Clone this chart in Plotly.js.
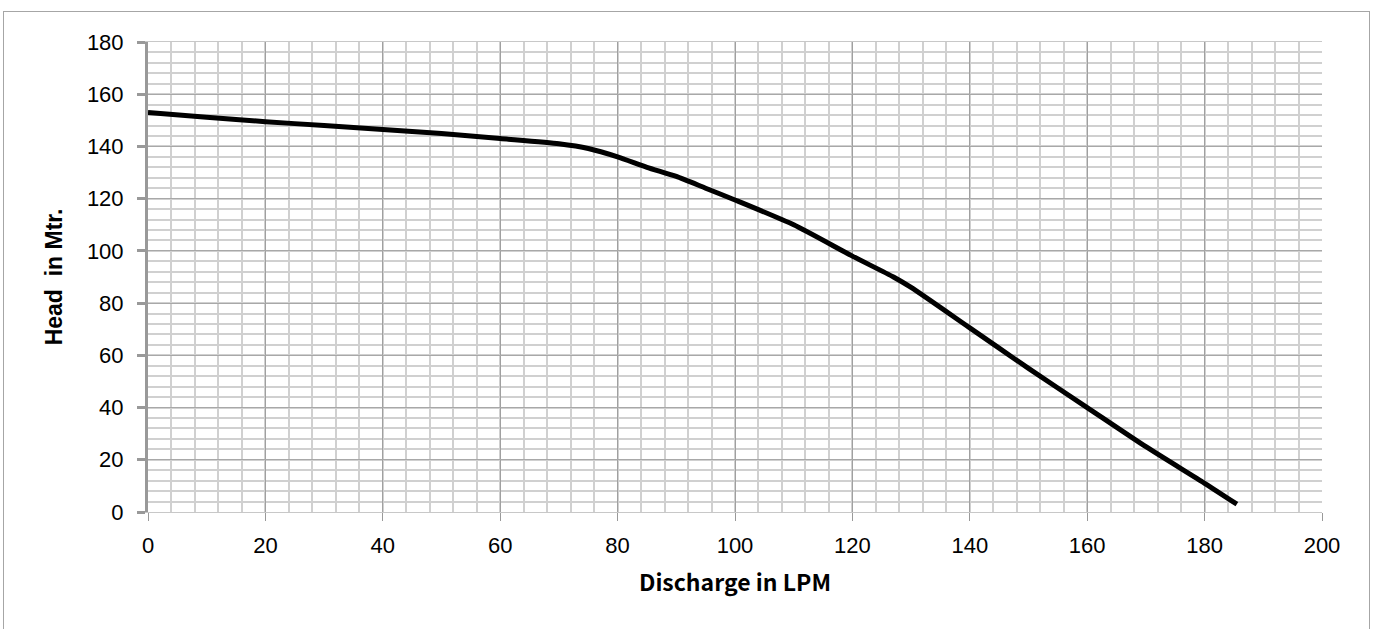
<!DOCTYPE html>
<html><head><meta charset="utf-8">
<script src="https://cdn.plot.ly/plotly-3.0.1.min.js"></script>
<style>
html,body{margin:0;padding:0;background:#fff;}
#chart{width:1377px;height:629px;position:relative;}
#frame{position:absolute;left:3px;top:11px;width:1365px;height:630px;border:1px solid #a6a6a6;pointer-events:none;}
</style></head>
<body>
<div id="chart"></div>
<div id="frame"></div>
<script>
const discharge = [0, 10, 20, 30, 40, 50, 60, 70, 75, 80, 85, 90, 95, 100, 110, 120, 127, 130, 140, 150, 160, 170, 180, 185.5];
const head = [153, 151.2, 149.5, 148, 146.5, 145, 143, 141, 139.2, 136, 132, 128.5, 124, 119.5, 110, 98, 90, 86, 70.5, 55, 40, 25, 11, 3];
const xTicks = [0, 20, 40, 60, 80, 100, 120, 140, 160, 180, 200];
const yTicks = [0, 20, 40, 60, 80, 100, 120, 140, 160, 180];

const tickFont = {family: 'Liberation Sans, Arial, sans-serif', size: 22, color: '#000'};
const xTitleFont = {family: 'Noto Sans CJK JP, sans-serif', size: 23, color: '#000', weight: 'bold'};
const yTitleFont = {family: 'Liberation Sans, Arial, sans-serif', size: 23, color: '#000', weight: 'bold'};

Plotly.newPlot('chart', [{
  x: discharge, y: head, type: 'scatter', mode: 'lines',
  line: {color: '#000', width: 5, shape: 'spline', smoothing: 0.6},
  hoverinfo: 'x+y'
}], {
  width: 1377, height: 629,
  margin: {l: 148, r: 55, t: 42, b: 117},
  paper_bgcolor: '#fff', plot_bgcolor: '#fff',
  showlegend: false,
  xaxis: {
    range: [0, 200], tickvals: xTicks, ticktext: xTicks.map(String),
    tickfont: tickFont, ticks: 'outside', ticklen: 8, tickcolor: '#999', tickwidth: 1,
    ticklabelstandoff: 6,
    showgrid: true, gridcolor: '#a0a0a0', gridwidth: 1,
    minor: {dtick: 4, tick0: 0, showgrid: true, gridcolor: '#d0d0d0', gridwidth: 1.5},
    zeroline: false, showline: true, linecolor: '#c8c8c8', linewidth: 1, mirror: true,
    title: {text: 'Discharge in LPM', font: xTitleFont, standoff: 17}
  },
  yaxis: {
    range: [0, 180], tickvals: yTicks, ticktext: yTicks.map(String),
    tickfont: tickFont, ticks: 'outside', ticklen: 8, tickcolor: '#999', tickwidth: 3,
    ticklabelstandoff: 9,
    showgrid: true, gridcolor: '#a8a8a8', gridwidth: 1,
    minor: {dtick: 4, tick0: 0, showgrid: true, gridcolor: '#d0d0d0', gridwidth: 1.5},
    zeroline: false, showline: true, linecolor: '#999', linewidth: 3,
    title: {text: 'Head  in Mtr.', font: yTitleFont, standoff: 18}
  }
}, {displayModeBar: false});
</script>
</body></html>
